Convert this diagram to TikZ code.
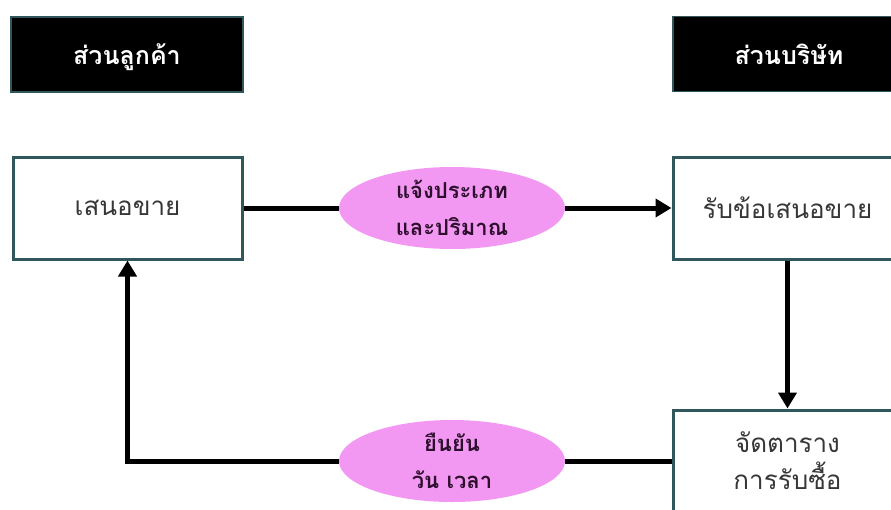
\documentclass[tikz,border=0pt]{standalone}
\usepackage{fontspec}
\newfontfamily\thaifont[Script=Thai]{Loma}
\usetikzlibrary{arrows.meta,positioning,shapes.geometric}

\definecolor{frameteal}{RGB}{48,88,92}
\definecolor{flowpink}{RGB}{242,152,242}
\definecolor{labelink}{RGB}{45,15,45}
\definecolor{boxink}{RGB}{55,55,55}

\begin{document}
\begin{tikzpicture}[x=1pt, y=-1pt,
    header/.style={draw=frameteal, line width=1.5pt, fill=black, text=white,
        font=\thaifont\bfseries\fontsize{25}{30}\selectfont,
        text height=22pt, text depth=2pt,
        minimum width=232pt, minimum height=75pt, inner sep=0pt},
    stepbox/.style={draw=frameteal, line width=3pt, fill=white, text=boxink,
        font=\thaifont\fontsize{26}{37}\selectfont, align=center,
        minimum width=229pt, minimum height=102pt, inner sep=0pt},
    flowtag/.style={ellipse, fill=flowpink, text=labelink,
        font=\thaifont\bfseries\fontsize{22}{37}\selectfont, align=center,
        minimum width=226pt, minimum height=82pt, inner sep=0pt},
    flow/.style={line width=5pt, black},
    tip/.style={-{Triangle[length=16pt,width=18pt]}}]
    \clip (0,0) rectangle (891,509);

    % Header boxes
    \node[header] (custhead) at (127,54.5) {ส่วนลูกค้า};
    \node[header] (comphead) at (789,54) {ส่วนบริษัท};

    % Steps
    \node[stepbox] (offer) at (127.5,208) {เสนอขาย};
    \node[stepbox] (receive) at (787.5,208) {รับข้อเสนอขาย};
    \node[stepbox] (schedule) at (787.5,461) {จัดตาราง\\การรับซื้อ};

    % Labels on the connectors
    \node[flowtag] (notify) at (452,208) {แจ้งประเภท\\และปริมาณ};
    \node[flowtag] (confirm) at (452,461) {ยืนยัน\\วัน เวลา};

    % Connectors
    \draw[flow] (offer.east) -- (notify.west);
    \draw[flow, tip] (notify.east) -- (receive.west);
    \draw[flow, tip] (receive.south) -- (schedule.north);
    \draw[flow] (schedule.west) -- (confirm.east);
    \draw[flow, tip] (confirm.west) -| (offer.south);
\end{tikzpicture}
\end{document}
